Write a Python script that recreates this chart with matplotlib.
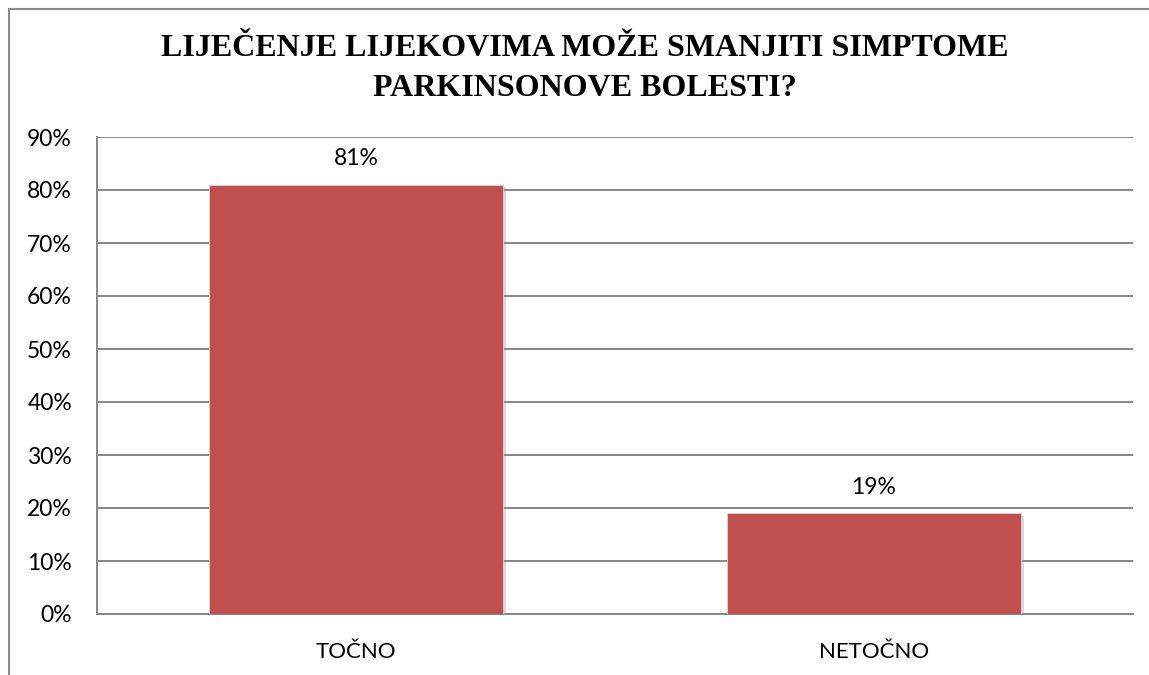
import matplotlib
matplotlib.use("Agg")
import matplotlib.pyplot as plt
from matplotlib.lines import Line2D
from matplotlib.ticker import FuncFormatter, MultipleLocator
import matplotlib.patheffects as pe

categories = ["TOČNO", "NETOČNO"]
values = [81, 19]
title_lines = ["LIJEČENJE LIJEKOVIMA MOŽE SMANJITI SIMPTOME", "PARKINSONOVE BOLESTI?"]

bar_color = "#C0504D"
grid_color = "#878787"
sans = ["Lato", "DejaVu Sans"]
serif = ["Liberation Serif", "DejaVu Serif"]

fig = plt.figure(figsize=(11.49, 6.75), dpi=100)
ax = fig.add_axes([97/1149, 1-614/675, (1133-97)/1149, (614-137)/675])

x = list(range(len(categories)))
bars = ax.bar(x, values, width=0.568, color=bar_color, zorder=3,
              edgecolor="#d9d9d9", linewidth=0.6)
for b in bars:
    b.set_path_effects([pe.SimplePatchShadow(offset=(2, -2), shadow_rgbFace="#999999", alpha=0.35), pe.Normal()])

ax.set_xlim(-0.5, len(categories) - 0.5)
ax.set_ylim(0, 90)
ax.yaxis.set_major_locator(MultipleLocator(10))
ax.yaxis.set_major_formatter(FuncFormatter(lambda v, p: f"{int(round(v))}%"))
ax.grid(axis="y", color=grid_color, linewidth=1.4, zorder=0)
ax.set_axisbelow(True)

for s in ["top", "right"]:
    ax.spines[s].set_visible(False)
ax.spines["left"].set_color(grid_color)
ax.spines["left"].set_linewidth(1.4)
ax.spines["bottom"].set_color(grid_color)
ax.spines["bottom"].set_linewidth(1.4)

ax.set_xticks(x)
ax.set_xticklabels(categories)
ax.tick_params(axis="y", length=0, labelsize=16.5, pad=18)
ax.tick_params(axis="x", length=0, labelsize=16, pad=20)
for lab in ax.get_xticklabels() + ax.get_yticklabels():
    lab.set_family(sans)

for xi, v in zip(x, values):
    ax.annotate(f"{v}%", (xi, v), xytext=(0, 11), textcoords="offset points",
                ha="center", va="bottom", fontsize=16.5, family=sans)

title_y = [48, 88]
for line, yy in zip(title_lines, title_y):
    fig.text(585/1149, 1 - yy/675, line, ha="center", va="center", fontsize=23,
             fontweight="bold", family=serif)

# figure border (top and left visible)
fig.add_artist(Line2D([9/1149, 9/1149], [0, 1 - 9/675], transform=fig.transFigure,
                      color="#8c8c8c", linewidth=1.5))
fig.add_artist(Line2D([9/1149, 1], [1 - 9/675, 1 - 9/675], transform=fig.transFigure,
                      color="#8c8c8c", linewidth=1.5))

fig.savefig("out.png", dpi=100)
